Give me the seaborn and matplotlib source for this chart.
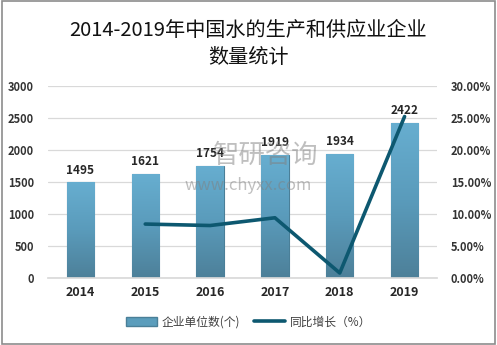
import matplotlib
matplotlib.use("Agg")
import matplotlib.pyplot as plt
import seaborn as sns
import pandas as pd
import numpy as np
from matplotlib.patches import Rectangle
from matplotlib.lines import Line2D
from matplotlib.ticker import FuncFormatter
from matplotlib.colors import LinearSegmentedColormap

years = ["2014", "2015", "2016", "2017", "2018", "2019"]
counts = [1495, 1621, 1754, 1919, 1934, 2422]
growth_years = ["2015", "2016", "2017", "2018", "2019"]
growth = [8.43, 8.20, 9.41, 0.78, 25.23]
title = "2014-2019年中国水的生产和供应业企业\n数量统计"
bar_label = "企业单位数(个)"
line_label = "同比增长（%）"

sns.set_theme(style="white")
plt.rcParams["font.family"] = ["Noto Sans CJK SC", "DejaVu Sans"]

df = pd.DataFrame({"year": years, "count": counts})

fig = plt.figure(figsize=(4.97, 3.45), dpi=100)
ax = fig.add_axes([48/497, 1-278/345, (437-48)/497, (278-86)/345])

bar_color = "#5b9dbc"
edge_color = "#4a7f98"
line_color = "#0d5870"
sns.barplot(data=df, x="year", y="count", ax=ax, color=bar_color, width=0.42,
            edgecolor=edge_color, linewidth=0.8, saturation=1, zorder=2)
ax.set_ylim(0, 3000)
ax.set_xlim(-0.5, 5.5)

# vertical gradient fill on bars
cmap = LinearSegmentedColormap.from_list("g", ["#4d8099", "#5a9bbb", "#67aed0"])
grad = np.linspace(0, 1, 256).reshape(-1, 1)
for p in ax.patches:
    x0, y0, w, h = p.get_x(), p.get_y(), p.get_width(), p.get_height()
    im = ax.imshow(grad, cmap=cmap, origin="lower", aspect="auto",
                   extent=[x0, x0 + w, y0, y0 + h], zorder=2.1)
    im.set_clip_path(p)
ax.set_xlim(-0.5, 5.5)
ax.set_ylim(0, 3000)
ax.set_aspect("auto")

ax.set_yticks(range(0, 3001, 500))
ax.grid(axis="y", color="#d9d9d9", linewidth=0.9, zorder=0)
ax.set_axisbelow(True)
for s in ax.spines.values():
    s.set_visible(False)
ax.spines["bottom"].set_visible(True)
ax.spines["bottom"].set_color("#d9d9d9")
ax.set_xlabel("")
ax.set_ylabel("")
ax.tick_params(axis="y", length=0, labelsize=8, labelcolor="#333333", pad=10)
ax.tick_params(axis="x", length=0, labelsize=9, labelcolor="#262626", pad=6)
for lab in ax.get_xticklabels():
    lab.set_fontweight("bold")
for lab in ax.get_yticklabels():
    lab.set_fontweight("bold")
for p, v in zip(ax.patches, counts):
    ax.text(p.get_x() + p.get_width()/2, v + 90, str(v), ha="center", va="bottom",
            fontsize=8.5, color="#262626", fontweight="bold", zorder=5)

ax2 = ax.twinx()
ax2.set_position(ax.get_position())
dg2 = pd.DataFrame({"year": [years.index(y) for y in growth_years], "growth": growth})
sns.lineplot(data=dg2, x="year", y="growth", ax=ax2, color=line_color, linewidth=2.6, zorder=3)
ax2.set_ylim(0, 30)
ax2.set_xlim(-0.5, 5.5)
ax2.set_yticks(range(0, 31, 5))
ax2.yaxis.set_major_formatter(FuncFormatter(lambda v, p: f"{v:.2f}%"))
ax2.tick_params(axis="y", length=0, labelsize=8, labelcolor="#333333", pad=10)
for lab in ax2.get_yticklabels():
    lab.set_fontweight("bold")
for s in ax2.spines.values():
    s.set_visible(False)
ax2.set_xlabel("")
ax2.set_ylabel("")
ax2.grid(False)

fig.text(0.5, 1-44/345, title, ha="center", va="center", fontsize=14.5,
         color="#111111", linespacing=1.35)

# watermark
fig.text(0.535, 1-155/345, "智研咨询", ha="center", va="center", fontsize=19,
         color="#808080", alpha=0.5)
fig.text(0.5, 1-186/345, "www.chyxx.com", ha="center", va="center", fontsize=12,
         color="#808080", alpha=0.5)

handles = [Rectangle((0, 0), 1, 1, facecolor=bar_color, edgecolor=edge_color),
           Line2D([0], [0], color=line_color, linewidth=2.6)]
fig.legend(handles, [bar_label, line_label], loc="center", bbox_to_anchor=(0.5, 1-322/345),
           ncol=2, frameon=False, fontsize=8.5, handlelength=2.6, handletextpad=0.4,
           columnspacing=1.2, labelcolor="#404040")

fig.patches.append(Rectangle((0.004, 0.004), 0.992, 0.992, transform=fig.transFigure,
                             fill=False, edgecolor="#8c8c8c", linewidth=1.2))
fig.savefig("out.png", dpi=100)
